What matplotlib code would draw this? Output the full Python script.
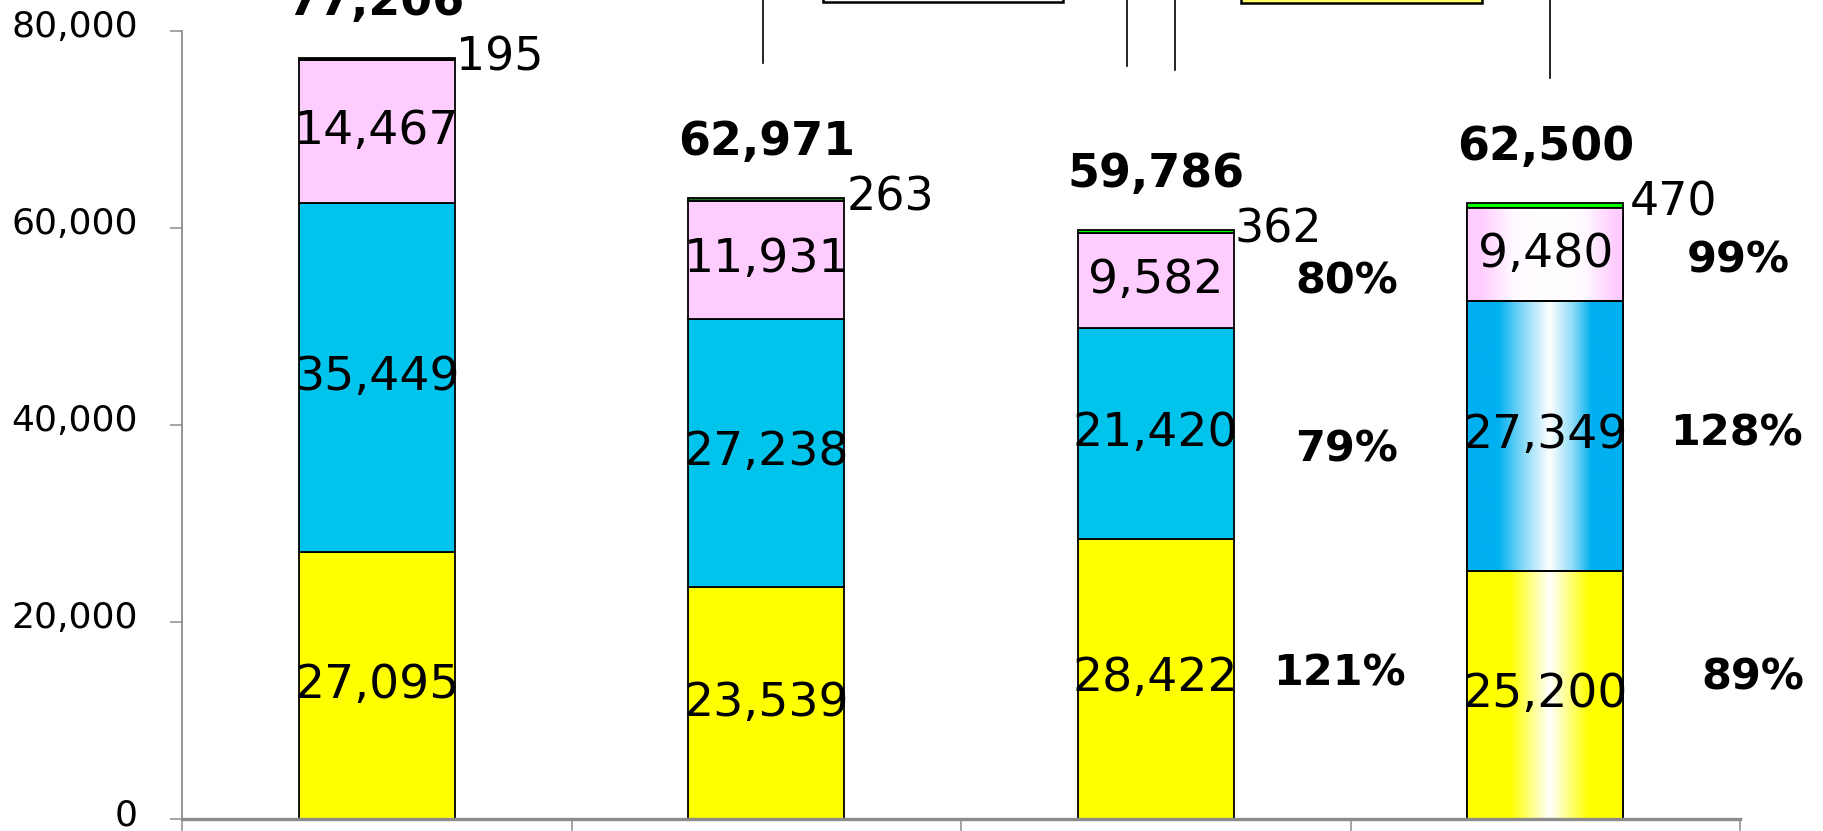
import numpy as np
import matplotlib
matplotlib.use("Agg")
import matplotlib.pyplot as plt
from matplotlib.patches import Rectangle
from matplotlib.lines import Line2D
from matplotlib.colors import to_rgb

# ---------------- data ----------------
categories = [0, 1, 2, 3]
seg_yellow = [27095, 23539, 28422, 25200]
seg_blue = [35449, 27238, 21420, 27349]
seg_pink = [14467, 11931, 9582, 9480]
seg_top = [195, 263, 362, 470]
total_labels = ["77,206", "62,971", "59,786", "62,500"]
pct_bar3 = ["121%", "79%", "80%"]
pct_bar4 = ["89%", "128%", "99%"]
y_ticks = [0, 20000, 40000, 60000, 80000]

# ---------------- style ----------------
W, H = 1823, 831
DPI = 100
PT = 72 / DPI  # points per pixel
fig = plt.figure(figsize=(W / DPI, H / DPI), dpi=DPI)
ax_left, ax_right, ax_top, ax_bottom = 182, 1740, 30.7, 819
ax = fig.add_axes([ax_left / W, (H - ax_bottom) / H,
                   (ax_right - ax_left) / W, (ax_bottom - ax_top) / H])

c_yellow = "#FFFF00"
c_cyan = "#00C4EC"
c_blue4 = "#00B0F0"
c_pink = "#FFCCFF"
c_top = ["#000000", "#1F6F1F", "#00FF00", "#00FF00"]
bar_w = 0.4
edge_kw = dict(edgecolor="black", linewidth=1.3)

x = np.array(categories, dtype=float)
b_y = ax.bar(x, seg_yellow, bar_w, color=c_yellow, zorder=2, **edge_kw)
bottom2 = np.array(seg_yellow)
blue_colors = [c_cyan, c_cyan, c_cyan, c_blue4]
b_b = ax.bar(x, seg_blue, bar_w, bottom=bottom2, color=blue_colors, zorder=2, **edge_kw)
bottom3 = bottom2 + np.array(seg_blue)
b_p = ax.bar(x, seg_pink, bar_w, bottom=bottom3, color=c_pink, zorder=2, **edge_kw)
bottom4 = bottom3 + np.array(seg_pink)
b_t = ax.bar(x, seg_top, bar_w, bottom=bottom4, color=c_top, zorder=2, **edge_kw)
tops = bottom4 + np.array(seg_top)


# gradient overlay on the last bar
def grad_profile(t, knots, vals):
    return np.interp(t, knots, vals)


t = np.linspace(0, 1, 400)
profiles = {
    "yellow": grad_profile(t, [0, 0.28, 0.53, 0.78, 1], [0, 0, 1, 0, 0]),
    "blue": grad_profile(t, [0, 0.2, 0.37, 0.53, 0.68, 0.8, 1], [0, 0, 0.55, 1, 0.55, 0, 0]),
    "pink": grad_profile(t, [0, 0.08, 0.3, 0.55, 0.75, 0.95, 1], [0, 0, 0.9, 1, 0.9, 0, 0]),
}
for patch, base, key in [(b_y.patches[3], c_yellow, "yellow"),
                         (b_b.patches[3], c_blue4, "blue"),
                         (b_p.patches[3], c_pink, "pink")]:
    rgb = np.array(to_rgb(base))
    w = profiles[key][:, None]
    row = rgb[None, :] * (1 - w) + np.ones(3)[None, :] * w
    img = np.repeat(row[None, :, :], 2, axis=0)
    x0, y0 = patch.get_x(), patch.get_y()
    im = ax.imshow(img, extent=(x0, x0 + patch.get_width(), y0, y0 + patch.get_height()),
                   aspect="auto", origin="lower", zorder=2.1, interpolation="bilinear")
    im.set_clip_path(patch)
    ax.add_patch(Rectangle((x0, y0), patch.get_width(), patch.get_height(),
                           fill=False, zorder=2.2, **edge_kw))

# ---------------- axes ----------------
ax.set_xlim(-0.5, 3.5)
ax.set_ylim(0, 80000)
ax.set_yticks(y_ticks)
ax.set_yticklabels([])
ax.set_xticks(np.arange(-0.5, 4.0, 1.0))
ax.set_xticklabels([])
for s in ["top", "right"]:
    ax.spines[s].set_visible(False)
ax.spines["left"].set_color("#8C8C8C")
ax.spines["left"].set_linewidth(1.3)
ax.spines["bottom"].set_color("#8C8C8C")
ax.spines["bottom"].set_linewidth(2.4)
ax.tick_params(axis="y", direction="out", length=9, width=1.1, color="#8C8C8C")
ax.tick_params(axis="x", direction="out", length=14, width=1.1, color="#8C8C8C")

# y tick labels (placed at the tick values via the y-axis transform)
for v in y_ticks:
    ax.annotate(f"{v:,}", xy=(0, v), xycoords=ax.get_yaxis_transform(),
                xytext=(-44 * PT, -6 * PT), textcoords="offset points",
                ha="right", va="baseline", fontsize=26, family="DejaVu Sans",
                annotation_clip=False)

# ---------------- labels ----------------
seg_fs = 34
small_dx_px = [1, 2, 1, 7]
for i in range(4):
    for vals, bottoms in [(seg_yellow, np.zeros(4)), (seg_blue, bottom2), (seg_pink, bottom3)]:
        ax.text(x[i], bottoms[i] + vals[i] / 2, f"{vals[i]:,}", ha="center", va="center",
                fontsize=seg_fs, color="black", zorder=5)
    # small top segment value, right of the bar
    ax.annotate(f"{seg_top[i]:,}", xy=(x[i] + bar_w / 2, tops[i]),
                xytext=(small_dx_px[i] * PT, 0),
                textcoords="offset points", ha="left", va="center", fontsize=seg_fs - 1,
                annotation_clip=False, zorder=5)
    # total above the bar
    ax.annotate(total_labels[i], xy=(x[i], tops[i]), xytext=(0, 31),
                textcoords="offset points", ha="center", va="baseline", fontsize=33,
                fontweight="bold", annotation_clip=False, zorder=5)

# percentage labels to the right of bars 3 and 4
pct_dx = 0.49
pct_dx_px = {2: [-7, 0, 0], 3: [17, 0, 2]}
pct_dy_px = {2: [-5, 16, 1], 3: [-17, -2, 6]}
for i, labels in [(2, pct_bar3), (3, pct_bar4)]:
    centers = [seg_yellow[i] / 2, bottom2[i] + seg_blue[i] / 2, bottom3[i] + seg_pink[i] / 2]
    for k, (lab, yc) in enumerate(zip(labels, centers)):
        ax.annotate(lab, xy=(x[i] + pct_dx, yc),
                    xytext=(pct_dx_px[i][k] * PT, -pct_dy_px[i][k] * PT),
                    textcoords="offset points", ha="center", va="center", fontsize=31,
                    fontweight="bold", annotation_clip=False, zorder=5)

# ---------------- cropped elements at the top edge ----------------
def fx(px):
    return px / W


def fy(py):
    return 1 - py / H


for xp, yend in [(763, 63), (1127, 66), (1175, 70), (1550, 78)]:
    fig.add_artist(Line2D([fx(xp), fx(xp)], [fy(-5), fy(yend)], color="black", lw=1.2,
                          transform=fig.transFigure))
fig.add_artist(Rectangle((fx(823), fy(1.8)), fx(1063) - fx(823), fy(-20) - fy(1.8),
                         transform=fig.transFigure, facecolor="white", edgecolor="black",
                         lw=1.8))
fig.add_artist(Rectangle((fx(1241), fy(3)), fx(1482) - fx(1241), fy(-20) - fy(3),
                         transform=fig.transFigure, facecolor="#FFFF66", edgecolor="black",
                         lw=1.8))

fig.savefig("out.png", dpi=DPI)
